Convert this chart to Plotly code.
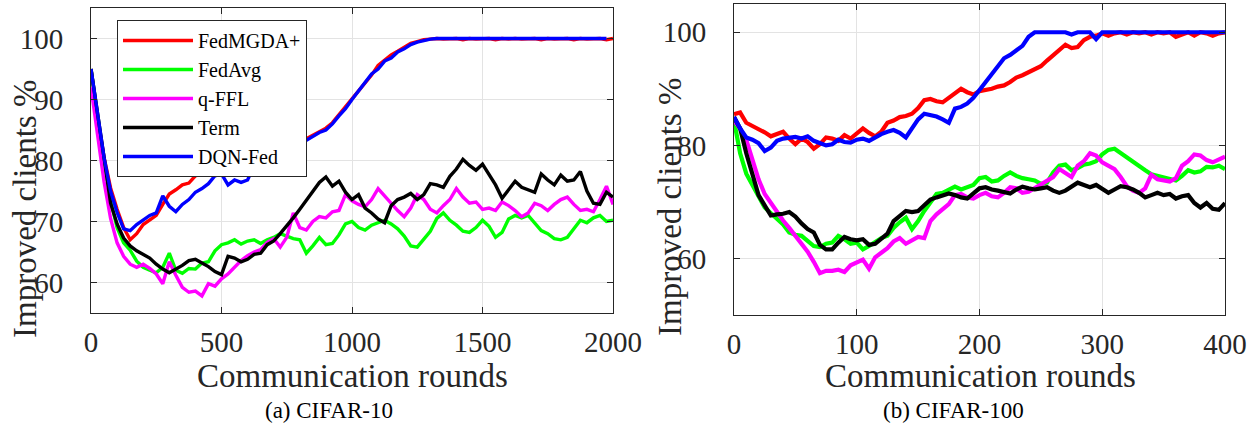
import plotly.graph_objects as go

# ---------------- Data: CIFAR-10 (rounds 0..2000, step 25) ----------------
rounds_c10 = list(range(0, 2001, 25))

c10_fedmgda = [95, 87, 80.5, 75.5, 72, 69, 67, 68, 69.5, 70.2, 71, 72.8, 74.5, 75.2, 76, 76.3,
               77.5, 77.8, 78.5, 79.6, 80.2, 80.6, 80.3, 81, 80.6, 80.2, 81, 80.5, 81.2, 81.5,
               82, 82.4, 83, 83.6, 84.2, 84.8, 85.3, 86.2, 87.5, 88.8, 90.3, 91.6, 92.8, 94,
               95.6, 96.4, 97.3, 97.9, 98.5, 99.2, 99.5, 99.8, 99.9,
               100, 99.9, 100, 100, 99.8, 100, 99.9, 100, 100, 99.8, 100, 99.9, 100, 99.9,
               100, 100, 99.8, 100, 99.9, 100, 100, 99.8, 100, 99.9, 100, 100, 99.8, 100]
c10_fedavg = [95, 87, 80, 73.5, 69, 66.5, 65.3, 63.5, 62.5, 62, 61.6, 62.5, 64.8, 62, 61.5, 62.3,
              62.2, 63.2, 63.4, 65.2, 66.2, 66.5, 67, 66.3, 66.8, 67, 66.4, 67, 67.4, 68, 67.6,
              67.2, 67, 64.8, 66, 67.4, 66.2, 66.4, 67.8, 69.6, 70, 69, 68.6, 69.4, 69.8, 70.2,
              69.6, 68.8, 67.6, 66, 65.8, 67.2, 68.4, 70.5, 71.4, 70.2, 69.4, 68.4, 68.2, 69,
              70.2, 69.2, 67.4, 68.2, 70.4, 71, 70.6, 71, 69.8, 68.5, 68, 67.2, 67, 67.4, 68.8,
              70.2, 69.8, 70.6, 71, 70, 70.2]
c10_qffl = [92, 84, 76.5, 70.5, 66.5, 64.3, 63, 62.5, 63, 62.3, 61.4, 59.8, 63.4, 61.2, 59.2,
            58.4, 58.6, 57.8, 59.8, 59.4, 60.6, 61.4, 62.6, 63.6, 64.4, 65, 65.4, 66.6, 67.2,
            65.8, 67.4, 71.4, 69, 68.6, 70, 70.8, 70.6, 71.6, 71.8, 74.4, 73.4, 72.8, 72.4,
            73.6, 75.4, 74.2, 72.8, 71.8, 70.8, 72.2, 74.4, 73.6, 72, 71.4, 72.6, 73.6, 75.4,
            74, 73, 73.2, 72, 72.2, 71.8, 73.2, 72.6, 71.8, 70.8, 71.4, 73, 72.6, 71.8, 72.8,
            73.6, 74, 72.8, 71.8, 72, 71.6, 73.6, 75.8, 72.8]
c10_term = [95, 88, 80.5, 73, 69.6, 67.3, 66, 65.2, 64.6, 64, 63, 62.2, 61.6, 62.2, 62.8, 63.6,
            63.8, 63.2, 62.6, 61.8, 61.3, 64.3, 64, 63.4, 63.8, 64.6, 64.8, 66.2, 66.8, 68,
            69.2, 70.6, 72, 73.4, 75, 76.4, 77.3, 75.8, 76.6, 74.8, 73.6, 74.4, 72.2, 71.4,
            70.4, 69.8, 72.6, 73.6, 74, 74.6, 73.6, 74.4, 76.2, 76, 75.6, 77.4, 78.6, 80.2,
            79.2, 78.4, 79.4, 77.6, 76, 73.8, 75.2, 76.6, 75.6, 75.2, 74.8, 77.8, 76.8, 76,
            77.6, 76.6, 76.8, 78.2, 75, 73, 72.8, 74.8, 74]
c10_dqnfed = [95, 87.5, 80.5, 75, 71.5, 68.8, 68.5, 69.5, 70.3, 71, 71.4, 74.2, 72.5, 71.6,
              72.8, 73.6, 74.8, 75.4, 76.2, 77.5, 77.8, 76, 76.8, 76.4, 76.8, 79.2, 79.8, 79.2,
              80.3, 80.8, 81.5, 82, 82.6, 83.3, 84, 84.6, 85, 86, 87.3, 88.5, 90, 91.4, 92.8,
              94.2, 95, 96.3, 96.8, 97.8, 98.3, 99, 99.4, 99.7, 99.9,
              100, 100, 99.9, 100, 100, 99.9, 100, 100, 100, 99.9, 100, 100, 100, 99.9, 100,
              100, 99.9, 100, 100, 100, 99.9, 100, 100, 100, 99.9, 100, 100]

# ---------------- Data: CIFAR-100 (rounds 0..400, step 5) ----------------
rounds_c100 = list(range(0, 401, 5))

c100_fedmgda = [85.5, 85.8, 84, 83.5, 83, 82.3, 81.6, 82, 82.4, 81.2, 80.2, 81.2, 80.6, 79.4,
                80.2, 81.4, 81.2, 80.8, 81.8, 81.2, 82, 83, 82.2, 81.6, 82.4, 84, 84.4, 85,
                85.2, 85.6, 86.6, 88, 88.2, 87.8, 87.6, 88.4, 89.2, 90, 89.4, 89, 89.6, 89.8,
                90, 90.4, 90.6, 91.2, 92, 92.4, 93, 93.4, 94, 95, 96, 97, 97.8, 97.2, 97.4,
                98.6, 99.2, 99.4, 99.8, 99.4, 99.8, 100, 99.6, 100, 99.8, 100, 99.6, 100, 99.8,
                100, 99.2, 99.6, 100, 99.4, 100, 99.8, 99.4, 99.8, 100]
c100_fedavg = [84.4, 78.6, 75, 72.8, 71, 69, 68, 66.8, 66, 64.6, 64.2, 64, 63.2, 62.2, 62, 62.6,
               62.8, 64, 63.4, 62.6, 62.8, 61.6, 62.2, 63, 63.6, 64, 65.4, 66.4, 67.2, 65.2,
               66.6, 68.4, 69.8, 71.4, 71.6, 72.2, 72.7, 72.2, 72.6, 73, 74.2, 74.4, 73.6, 73.8,
               74.6, 75.2, 74.6, 74.2, 74, 73.8, 73.2, 73.4, 75.2, 76.4, 76.6, 75.6, 76, 76.6,
               76.8, 77.2, 78.4, 79.2, 79.4, 78.6, 77.9, 77, 76.2, 75.6, 74.9, 74.6, 74.3, 74,
               73.8, 74.6, 75.6, 75.2, 75.4, 76.2, 76.1, 76.4, 75.8]
c100_qffl = [84.4, 83, 81, 77.4, 74, 71.4, 69.8, 68.2, 66.7, 65.4, 64, 62.6, 61.2, 59.4, 57.4,
             57.8, 57.8, 58, 57.6, 58.8, 59.4, 59.8, 58.2, 60.2, 61, 61.8, 63, 63.6, 62.6, 63.2,
             63.8, 63.6, 66.6, 67.8, 68.8, 69.6, 71.2, 71.4, 70.8, 70.6, 71.2, 71.6, 71, 70.8,
             71.6, 72.6, 72.4, 71.6, 71.8, 72.4, 73.2, 73.8, 74.4, 75.8, 75, 74.4, 76.4, 77.2,
             78.6, 78.2, 77, 76.4, 75.8, 74.4, 72.8, 72, 71.6, 72.4, 74.8, 74, 73.8, 73.6, 74.2,
             76.4, 77.2, 78.4, 78.2, 77.4, 77, 77.6, 78]
c100_term = [85, 83, 78.6, 75, 71.2, 69.4, 67.6, 67.8, 67.9, 68.2, 67.4, 66.2, 65.2, 64.6, 62.4,
             61.6, 61.6, 62.8, 63.8, 63.4, 63.2, 63.4, 62.4, 62.6, 63.4, 64.4, 66.6, 67.6, 68.4,
             68.2, 68.4, 69.4, 70.4, 70.8, 71.2, 71.5, 71.2, 70.8, 70.6, 71.6, 72.4, 72.6, 72.2,
             72, 71.8, 71.5, 72.2, 72.7, 72.4, 72.2, 72.4, 72.6, 72, 71.6, 72, 72.8, 73.4, 73,
             72.6, 73, 72.2, 71.6, 72.2, 72.8, 72.6, 72.2, 71.6, 70.8, 71.2, 71.6, 71.2, 71.4,
             70.6, 71, 71.2, 69.8, 69, 69.8, 68.8, 68.6, 69.8]
c100_dqnfed = [85, 83, 81.4, 81, 80.4, 79, 79.6, 80.8, 81.2, 81.4, 81.5, 81.2, 81.6, 80.8, 80.4,
               80, 80.2, 81, 80.6, 80.5, 81, 81.2, 80.8, 81.5, 82, 82.4, 82.7, 82.2, 81.4, 83,
               84.6, 85.6, 85.4, 85.1, 84.6, 84, 86.5, 86.8, 87.4, 88.4, 89.8, 91.2, 92.8, 94,
               95.4, 96, 96.8, 97.6, 99.2, 100, 100, 100, 100, 100, 100, 99.6, 100, 100, 100,
               98.8, 100, 100, 100, 100, 100, 100, 100, 100, 100, 100, 100, 100, 100, 100, 100,
               100, 100, 100, 100, 100, 100]

names = ["FedMGDA+", "FedAvg", "q-FFL", "Term", "DQN-Fed"]
colors = ["#ff0000", "#00ff00", "#ff00ff", "#000000", "#0000ff"]
series_c10 = [c10_fedmgda, c10_fedavg, c10_qffl, c10_term, c10_dqnfed]
series_c100 = [c100_fedmgda, c100_fedavg, c100_qffl, c100_term, c100_dqnfed]

W, H = 1247, 423
FONT = "Liberation Serif"
AX = "#262626"

fig = go.Figure()
for name, col, ys in zip(names, colors, series_c10):
    fig.add_trace(go.Scatter(x=rounds_c10, y=ys, mode="lines", name=name,
                             line=dict(color=col, width=3.4), xaxis="x", yaxis="y",
                             showlegend=True))
for name, col, ys in zip(names, colors, series_c100):
    fig.add_trace(go.Scatter(x=rounds_c100, y=ys, mode="lines", name=name,
                             line=dict(color=col, width=4.2), xaxis="x2", yaxis="y2",
                             showlegend=False))

def px_x(p):
    return p / W

def px_y(p):
    return 1 - p / H

axis_common = dict(showline=True, linecolor=AX, linewidth=1, mirror="ticks",
                   ticks="inside", ticklen=6, tickcolor=AX, showgrid=True,
                   gridcolor="#e3e3e3", gridwidth=1, zeroline=False, automargin=False,
                   tickfont=dict(family=FONT, size=29, color=AX))

fig.update_layout(
    template="none",
    width=W, height=H, margin=dict(l=0, r=0, t=0, b=0, pad=0), autosize=False,
    paper_bgcolor="white", plot_bgcolor="white",
    xaxis=dict(domain=[px_x(91), px_x(613)], range=[0, 2000],
               tickvals=[0, 500, 1000, 1500, 2000], anchor="y",
               ticklabelstandoff=3, **axis_common),
    yaxis=dict(domain=[px_y(313), px_y(8)], range=[55, 105],
               tickvals=[60, 70, 80, 90, 100], anchor="x",
               ticklabelstandoff=21, **axis_common),
    xaxis2=dict(domain=[px_x(734), px_x(1225)], range=[0, 400],
                tickvals=[0, 100, 200, 300, 400], anchor="y2",
                ticklabelstandoff=3, **axis_common),
    yaxis2=dict(domain=[px_y(315), px_y(4)], range=[50, 105],
                tickvals=[60, 80, 100], anchor="x2",
                ticklabelstandoff=21, **axis_common),
    legend=dict(x=px_x(117), y=px_y(20), xanchor="left", yanchor="top",
                bgcolor="white", bordercolor=AX, borderwidth=1,
                font=dict(family=FONT, size=20, color="black"),
                tracegroupgap=0, itemwidth=70),
    showlegend=True,
)

annots = [
    dict(text="Communication rounds", x=px_x(352), y=px_y(376)),
    dict(text="Communication rounds", x=px_x(980), y=px_y(376)),
    dict(text="Improved clients %", x=px_x(25), y=px_y(209), textangle=-90),
    dict(text="Improved clients %", x=px_x(670), y=px_y(207), textangle=-90),
]
for a in annots:
    fig.add_annotation(xref="paper", yref="paper", xanchor="center", yanchor="middle",
                       showarrow=False, font=dict(family=FONT, size=33, color=AX), **a)

for txt, cx in [("(a) CIFAR-10", 329), ("(b) CIFAR-100", 953)]:
    fig.add_annotation(text=txt, xref="paper", yref="paper", x=px_x(cx), y=px_y(410),
                       xanchor="center", yanchor="middle", showarrow=False,
                       font=dict(family=FONT, size=23, color="black"))

fig.write_html("out.html", config={"displayModeBar": False},
               post_script="document.body.style.margin='0px';document.body.style.overflow='hidden';")
